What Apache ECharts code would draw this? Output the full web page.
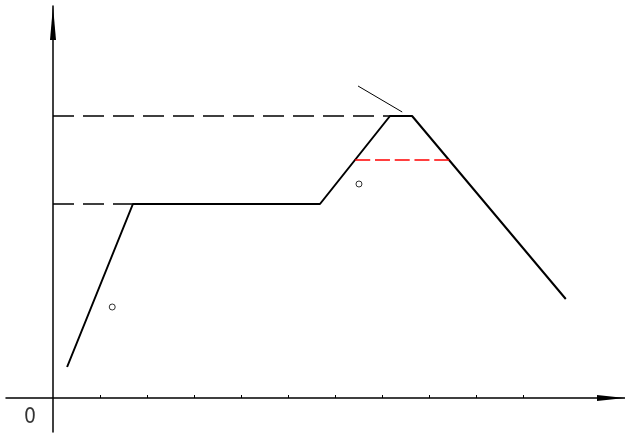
<!DOCTYPE html>
<html>
<head>
<meta charset="utf-8">
<script src="https://cdn.jsdelivr.net/npm/echarts@6/dist/echarts.min.js"></script>
<style>
html,body{margin:0;padding:0;background:#fff;}
#main{width:625px;height:436px;}
</style>
</head>
<body>
<div id="main"></div>
<script>
// 数据
var profile = [[0.30, 3.1], [1.70, 19.4], [5.68, 19.4], [7.17, 28.2], [7.64, 28.2], [10.91, 9.9]];
var upperGuide = [[0, 28.2], [7.17, 28.2]];
var lowerGuide = [[0, 19.4], [1.70, 19.4]];
var redGuide = [[6.43, 23.8], [8.43, 23.8]];
var pointer = [[6.49, 31.2], [7.43, 28.6]];
var circles = [[1.26, 9.1], [6.51, 21.4]];
var xTicks = [1, 2, 3, 4, 5, 6, 7, 8, 9, 10];
var originLabel = '0';

var myChart = echarts.init(document.getElementById('main'));
var option = {
    animation: false,
    backgroundColor: '#fff',
    grid: {
        left: 6,
        right: 0,
        top: 6,
        bottom: 4
    },
    xAxis: {
        type: 'value',
        min: -1,
        max: 12.17,
        splitLine: {show: false},
        axisLabel: {show: false},
        axisLine: {
            onZero: true,
            lineStyle: {color: '#000', width: 1.5},
            symbol: ['none', 'triangle'],
            symbolSize: [6, 28],
            symbolOffset: [0, -14]
        },
        axisTick: {
            show: true,
            inside: true,
            length: 3,
            customValues: xTicks,
            lineStyle: {color: '#000', width: 1}
        }
    },
    yAxis: {
        type: 'value',
        min: -3.4,
        max: 39.2,
        splitLine: {show: false},
        axisLabel: {show: false},
        axisTick: {show: false},
        axisLine: {
            onZero: true,
            lineStyle: {color: '#000', width: 1.5},
            symbol: ['none', 'triangle'],
            symbolSize: [6, 34],
            symbolOffset: [0, -17]
        }
    },
    series: [
        {
            type: 'line',
            data: profile,
            symbol: 'none',
            lineStyle: {color: '#000', width: 2}
        },
        {
            type: 'line',
            data: upperGuide,
            symbol: 'none',
            lineStyle: {color: '#000', width: 1.3, type: [21, 9]}
        },
        {
            type: 'line',
            data: lowerGuide,
            symbol: 'none',
            lineStyle: {color: '#000', width: 1.3, type: [21, 9]}
        },
        {
            type: 'line',
            data: redGuide,
            symbol: 'none',
            lineStyle: {color: '#ff0000', width: 1.3, type: [15, 4.75]}
        },
        {
            type: 'line',
            data: pointer,
            symbol: 'none',
            lineStyle: {color: '#000', width: 1}
        },
        {
            type: 'scatter',
            data: circles,
            symbol: 'circle',
            symbolSize: 6,
            itemStyle: {color: '#fff', borderColor: '#000', borderWidth: 1}
        },
        {
            type: 'scatter',
            data: [[0, 0]],
            symbolSize: 0,
            label: {
                show: true,
                position: 'inside',
                formatter: originLabel,
                offset: [-23, 20],
                color: '#000',
                fontSize: 21,
                fontWeight: 'lighter',
                fontFamily: 'Liberation Sans Narrow, DejaVu Sans Condensed, sans-serif'
            }
        }
    ]
};
myChart.setOption(option);
</script>
</body>
</html>
